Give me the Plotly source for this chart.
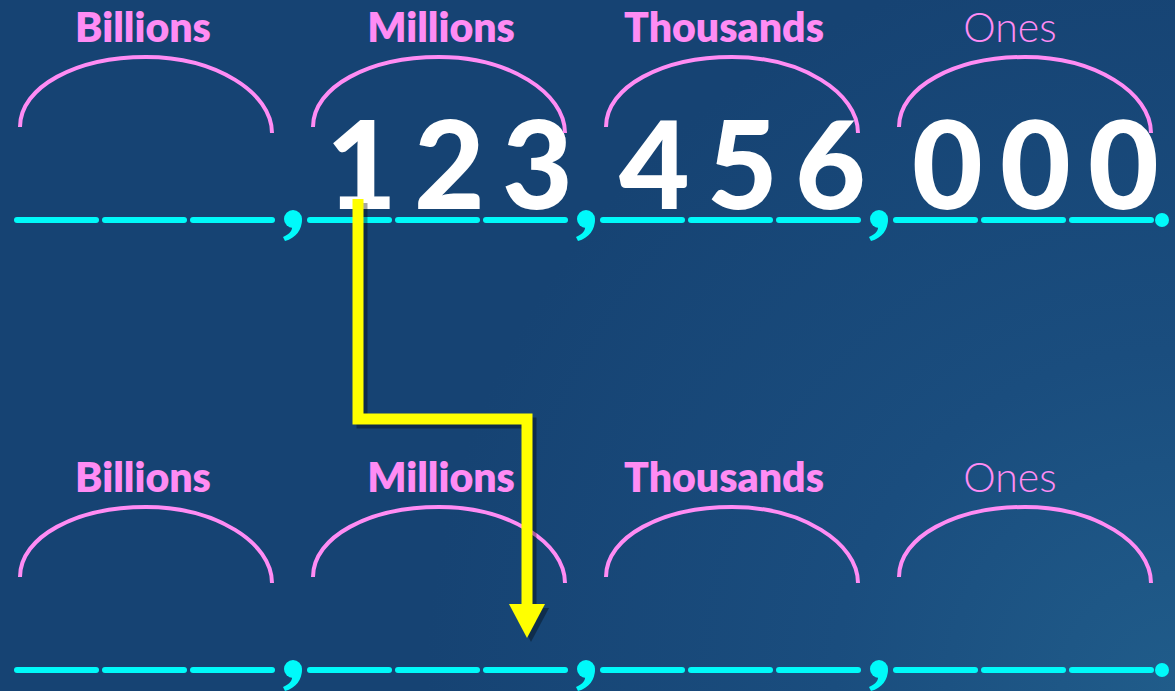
import plotly.graph_objects as go

# ---------------- data ----------------
periods = ["Billions", "Millions", "Thousands", "Ones"]
period_bold = [True, True, True, False]
top_digits = ["", "123", "456", "000"]
bottom_digits = ["", "", "", ""]

# ---------------- layout constants ----------------
W, H = 1175, 691
BG = "#164373"
BG_GRADIENT = "radial-gradient(circle at 100% 100%, #205c8a 0%, #1a4d7e 25%, #164373 55%, #164373 100%)"
PINK = "#FF8CF4"
CYAN = "#00FAFA"
YELLOW = "#FFFF00"
FONT = "Lato, 'Open Sans', 'DejaVu Sans', sans-serif"

X0 = 17            # left of the first dash
GROUP_PITCH = 293
DASH_PITCH = 88
DASH_LEN = 79
ROW_DY = 450       # vertical offset of the second row
DASH_Y = 220
LABEL_Y = 32
LABEL_DX = [126, 131, 121, 114]
ARC_TOP = 57
ARC_BASE = 130
DIGIT_Y = 178
DIGIT_DX = 12

fig = go.Figure()
shapes = []


def arc_path(x_left, x_right, y_base, y_top, tilt=3.0):
    cx = (x_left + x_right) / 2
    a = (x_right - x_left) / 2
    b = y_base - y_top
    k = 0.5523
    yl = y_base - tilt
    yr = y_base + tilt
    return (f"M {x_left},{yl} C {x_left},{yl - k * b} {cx - k * a},{y_top} {cx},{y_top} "
            f"C {cx + k * a},{y_top} {x_right},{yr - k * b} {x_right},{yr}")


def comma_shapes(cx, cy):
    r = 9
    out = [dict(type="circle", xref="x", yref="y", x0=cx - r, x1=cx + r, y0=cy - r, y1=cy + r,
                fillcolor=CYAN, line=dict(width=0))]
    path = (f"M {cx + r},{cy} C {cx + r},{cy + 11} {cx + 3},{cy + 19} {cx - 8},{cy + 22} "
            f"L {cx - 10},{cy + 18} C {cx - 3},{cy + 15} {cx},{cy + 11} {cx - 1},{cy + 6} Z")
    out.append(dict(type="path", xref="x", yref="y", path=path, fillcolor=CYAN, line=dict(width=0)))
    return out


for row, digits in enumerate([top_digits, bottom_digits]):
    dy = row * ROW_DY
    xs, ys = [], []
    dig_x, dig_y, dig_t = [], [], []
    for g, name in enumerate(periods):
        gx = X0 + g * GROUP_PITCH
        for d in range(3):
            a = gx + d * DASH_PITCH
            b = a + DASH_LEN
            xs += [a, b, None]
            ys += [DASH_Y + dy, DASH_Y + dy, None]
            if digits[g]:
                dig_x.append((a + b) / 2 + DIGIT_DX)
                dig_y.append(DIGIT_Y + dy)
                dig_t.append(digits[g][d])
        gend = gx + 2 * DASH_PITCH + DASH_LEN
        # arc
        shapes.append(dict(type="path", xref="x", yref="y", layer="above",
                           path=arc_path(gx + 3, gend, ARC_BASE + dy, ARC_TOP + dy),
                           line=dict(color=PINK, width=4)))
        # comma / dot
        if g < len(periods) - 1:
            nxt = X0 + (g + 1) * GROUP_PITCH
            shapes += comma_shapes((gend + nxt) / 2 + 2, DASH_Y - 1 + dy)
        else:
            shapes.append(dict(type="circle", xref="x", yref="y",
                               x0=gend + 4, x1=gend + 18, y0=DASH_Y + dy - 7, y1=DASH_Y + dy + 7,
                               fillcolor=CYAN, line=dict(width=0)))
        # label
        fig.add_trace(go.Scatter(
            x=[gx + LABEL_DX[g]], y=[LABEL_Y + dy], mode="text", text=[name],
            textposition="middle center", hoverinfo="skip", showlegend=False,
            textfont=dict(family=FONT, size=41, color=PINK,
                          weight=800 if period_bold[g] else 300)))
    fig.add_trace(go.Scatter(x=xs, y=ys, mode="lines+markers", hoverinfo="skip", showlegend=False,
                             line=dict(color=CYAN, width=6),
                             marker=dict(color=CYAN, size=6, line=dict(width=0))))
    if dig_t:
        fig.add_trace(go.Scatter(x=dig_x, y=dig_y, mode="text", text=dig_t,
                                 textposition="middle center", hoverinfo="skip", showlegend=False,
                                 textfont=dict(family=FONT, size=122, color="white", weight=900)))

# yellow step arrow (from the "1" of the millions period down to the second row)
ax1, ay1 = 358, 199
ay2 = 419
ax2 = 527
ay3 = 604
for off, col in [(4, "rgba(0,0,0,0.35)"), (0, YELLOW)]:
    shapes.append(dict(type="path", xref="x", yref="y", layer="above",
                       path=f"M {ax1 + off},{ay1 + off} L {ax1 + off},{ay2 + off} L {ax2 + off},{ay2 + off} L {ax2 + off},{ay3 + off}",
                       line=dict(color=col, width=11)))
    shapes.append(dict(type="path", xref="x", yref="y", layer="above",
                       path=f"M {ax2 - 18 + off},{ay3 + off} L {ax2 + 18 + off},{ay3 + off} L {ax2 + off},{ay3 + 34 + off} Z",
                       fillcolor=col, line=dict(width=0)))

fig.update_layout(
    width=W, height=H, margin=dict(l=0, r=0, t=0, b=0),
    paper_bgcolor="rgba(0,0,0,0)", plot_bgcolor="rgba(0,0,0,0)",
    xaxis=dict(range=[0, W], visible=False, fixedrange=True),
    yaxis=dict(range=[H, 0], visible=False, fixedrange=True),
    shapes=shapes,
)

post = (
    "document.documentElement.style.background='" + BG + "';"
    "document.body.style.margin='0';"
    "document.body.style.width='" + str(W) + "px';"
    "document.body.style.height='" + str(H) + "px';"
    "document.body.style.background='" + BG_GRADIENT + "';"
)
fig.write_html("out.html", config={"displayModeBar": False}, post_script=post)
